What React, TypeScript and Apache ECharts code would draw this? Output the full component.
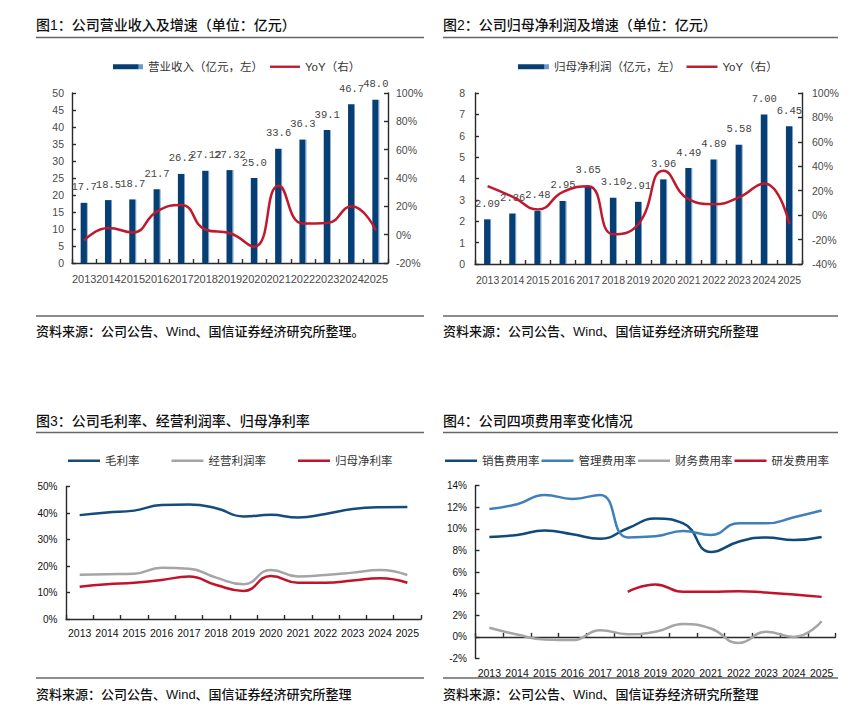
import React, { useEffect, useRef } from 'react';
import * as echarts from 'echarts';

const years = ['2013', '2014', '2015', '2016', '2017', '2018', '2019', '2020', '2021', '2022', '2023', '2024', '2025'];

// 图1
const revenue = [17.7, 18.5, 18.7, 21.7, 26.2, 27.12, 27.32, 25.0, 33.6, 36.3, 39.1, 46.7, 48.0];
const revenueYoY = [-4, 4.7, 1.6, 16.5, 21, 3.5, 1, -8.5, 34.5, 7.8, 8.2, 20, 3];

// 图2
const netProfit = [2.09, 2.36, 2.48, 2.95, 3.65, 3.1, 2.91, 3.96, 4.49, 4.89, 5.58, 7.0, 6.45];
const netProfitYoY = [23.8, 15, 4.7, 19, 23.7, -15.7, -7.3, 36.3, 13, 9, 14.6, 26, -7.5];

// 图3
const grossMargin = [39.2, 40.2, 40.9, 43, 43.2, 41.8, 38.7, 39.3, 38.3, 39.6, 41.5, 42.2, 42.3];
const opMargin = [16.7, 16.9, 17.1, 19.3, 19, 15.6, 13.1, 18.5, 16, 16.6, 17.5, 18.5, 16.6];
const netMargin = [12.2, 13.1, 13.7, 14.7, 16, 12.8, 10.6, 16.2, 13.7, 13.7, 14.5, 15.4, 13.7];

// 图4
const sellingRate = [9.24, 9.43, 9.83, 9.49, 9.08, 10.05, 10.94, 10.5, 7.85, 8.8, 9.2, 8.96, 9.24];
const mgmtRate = [11.83, 12.27, 13.13, 12.76, 13.13, 9.2, 9.3, 9.8, 9.43, 10.5, 10.5, 11.06, 11.68];
const financeRate = [0.84, 0.22, -0.25, -0.3, 0.62, 0.25, 0.47, 1.18, 0.78, -0.56, 0.47, 0, 1.45];
const rdRate = [null, null, null, null, null, 4.17, 4.85, 4.17, 4.17, 4.23, 4.1, 3.93, 3.7];

const titles = ['图1：公司营业收入及增速（单位：亿元）', '图2：公司归母净利润及增速（单位：亿元）', '图3：公司毛利率、经营利润率、归母净利率', '图4：公司四项费用率变化情况'];
const sources = ['资料来源：公司公告、Wind、国信证券经济研究所整理。', '资料来源：公司公告、Wind、国信证券经济研究所整理', '资料来源：公司公告、Wind、国信证券经济研究所整理', '资料来源：公司公告、Wind、国信证券经济研究所整理'];

const FONT = "'Liberation Sans','Noto Sans CJK SC',sans-serif";
const NAVY = '#073e74';
const RED = '#c0182c';
const LINE_ICON = 'path://M0,0H32V2.5H0Z';

const barColor = new echarts.graphic.LinearGradient(0, 0, 1, 0, [
  { offset: 0, color: NAVY },
  { offset: 0.83, color: NAVY },
  { offset: 0.86, color: '#6d9acb' },
  { offset: 1, color: '#6d9acb' },
]);

function fmtRev(v: number) {
  return Math.abs(Math.round(v * 10) - v * 10) < 1e-6 ? v.toFixed(1) : v.toFixed(2);
}

function catAxis(gridIndex: number, fontSize: number, color: string, margin: number, onZero: boolean) {
  return {
    type: 'category',
    gridIndex,
    data: years,
    boundaryGap: true,
    axisLine: { show: true, onZero, lineStyle: { color: '#2a2a2a', width: 1.4 } },
    axisTick: { show: true, inside: true, length: 4, lineStyle: { color: '#2a2a2a', width: 1.4 } },
    axisLabel: { interval: 0, fontSize, color, margin, fontFamily: FONT },
    splitLine: { show: false },
  };
}

function valAxis(gridIndex: number, position: string, min: number, max: number, interval: number, pct: boolean, fontSize: number, color: string, margin: number) {
  return {
    type: 'value',
    gridIndex,
    position,
    min,
    max,
    interval,
    axisLine: { show: true, onZero: false, lineStyle: { color: '#2a2a2a', width: 1.4 } },
    axisTick: { show: true, inside: true, length: 4, lineStyle: { color: '#2a2a2a', width: 1.4 } },
    axisLabel: { fontSize, color, margin, fontFamily: FONT, formatter: (v: number) => (pct ? v + '%' : String(v)) },
    splitLine: { show: false },
  };
}

function lineSeries(name: string, data: (number | null)[], xi: number, yi: number, color: string) {
  return {
    name,
    type: 'line',
    xAxisIndex: xi,
    yAxisIndex: yi,
    data,
    smooth: 0.5,
    symbol: 'none',
    showSymbol: false,
    connectNulls: false,
    lineStyle: { color, width: 2.5 },
    itemStyle: { color },
    z: 3,
  };
}

function barSeries(name: string, data: number[], xi: number, yi: number, fmt: (v: number) => string) {
  return {
    name,
    type: 'bar',
    xAxisIndex: xi,
    yAxisIndex: yi,
    data,
    barWidth: 7,
    itemStyle: { color: barColor },
    label: {
      show: true,
      position: 'top',
      distance: 10,
      fontFamily: "'Liberation Mono','DejaVu Sans Mono',monospace",
      fontSize: 10.5,
      color: '#444',
      formatter: (p: any) => fmt(p.value),
    },
    z: 2,
  };
}

function headerGraphics() {
  const g: any[] = [];
  const pos = [
    { x: 36, y: 25, lx1: 36, lx2: 424, ly: 37.5, sy: 316, st: 331.5, sx2: 424 },
    { x: 443, y: 25, lx1: 443, lx2: 838, ly: 37.5, sy: 316, st: 331.5, sx2: 838 },
    { x: 36, y: 420.5, lx1: 36, lx2: 424, ly: 432.5, sy: 678, st: 694, sx2: 424 },
    { x: 443, y: 420.5, lx1: 443, lx2: 838, ly: 432.5, sy: 678, st: 694, sx2: 838 },
  ];
  pos.forEach((p, i) => {
    g.push({
      type: 'text',
      x: p.x,
      y: p.y,
      style: { text: titles[i], fill: '#111', fontSize: 14, fontFamily: FONT, fontWeight: 500, verticalAlign: 'middle' },
    });
    g.push({ type: 'line', shape: { x1: p.lx1, y1: p.ly, x2: p.lx2, y2: p.ly }, style: { stroke: '#666', lineWidth: 1.5 } });
    g.push({ type: 'line', shape: { x1: p.lx1, y1: p.sy, x2: p.sx2, y2: p.sy }, style: { stroke: '#666', lineWidth: 1.5 } });
    g.push({
      type: 'text',
      x: p.x,
      y: p.st,
      style: { text: sources[i], fill: '#111', fontSize: 13, fontFamily: FONT, fontWeight: 500, verticalAlign: 'middle' },
    });
  });
  return g;
}

export default function App() {
  const ref = useRef<HTMLDivElement>(null);
  useEffect(() => {
    if (!ref.current) return;
    const chart = echarts.init(ref.current, undefined, { renderer: 'svg' });
    const legendText = { fontSize: 11.5, color: '#333', fontFamily: FONT };
    const option: any = {
      animation: false,
      backgroundColor: '#fff',
      textStyle: { fontFamily: FONT },
      graphic: headerGraphics(),
      grid: [
        { left: 72, top: 93, width: 316, height: 170, containLabel: false },
        { left: 475, top: 93, width: 327, height: 171, containLabel: false },
        { left: 66, top: 486.5, width: 355, height: 132.5, containLabel: false },
        { left: 475.5, top: 485.5, width: 360, height: 173, containLabel: false },
      ],
      legend: [
        {
          left: 113, top: 61, padding: 0, itemWidth: 30, itemHeight: 5, itemGap: 7, selectedMode: false,
          symbolKeepAspect: true,
          textStyle: legendText,
          data: [{ name: '营业收入（亿元，左）', icon: 'rect' }, { name: 'YoY（右）', icon: LINE_ICON }],
        },
        {
          left: 518, top: 61, padding: 0, itemWidth: 31, itemHeight: 5, itemGap: 6, selectedMode: false,
          symbolKeepAspect: true,
          textStyle: legendText,
          data: [{ name: '归母净利润（亿元，左）', icon: 'rect' }, { name: 'YoY（右）', icon: LINE_ICON }],
        },
        {
          left: 68, top: 455, padding: 0, itemWidth: 32, itemHeight: 10, itemGap: 32, selectedMode: false,
          symbolKeepAspect: true, icon: LINE_ICON,
          textStyle: legendText,
          data: ['毛利率', '经营利润率', '归母净利率'],
        },
        {
          left: 445, top: 455, padding: 0, itemWidth: 32, itemHeight: 10, itemGap: 2, selectedMode: false,
          symbolKeepAspect: true, icon: LINE_ICON,
          textStyle: legendText,
          data: ['销售费用率', '管理费用率', '财务费用率', '研发费用率'],
        },
      ],
      xAxis: [
        catAxis(0, 11, '#4a4a4a', 10, false),
        catAxis(1, 10.5, '#4a4a4a', 10.5, false),
        catAxis(2, 10.5, '#111', 9, false),
        catAxis(3, 10.5, '#111', 9, true),
      ],
      yAxis: [
        valAxis(0, 'left', 0, 50, 5, false, 10.5, '#4a4a4a', 8),
        valAxis(0, 'right', -20, 100, 20, true, 10.5, '#4a4a4a', 8),
        valAxis(1, 'left', 0, 8, 1, false, 10.5, '#4a4a4a', 10),
        valAxis(1, 'right', -40, 100, 20, true, 10.5, '#4a4a4a', 10),
        valAxis(2, 'left', 0, 50, 10, true, 10, '#111', 8.5),
        valAxis(3, 'left', -2, 14, 2, true, 10, '#111', 8.5),
      ],
      series: [
        barSeries('营业收入（亿元，左）', revenue, 0, 0, fmtRev),
        lineSeries('YoY（右）', revenueYoY, 0, 1, RED),
        barSeries('归母净利润（亿元，左）', netProfit, 1, 2, (v) => v.toFixed(2)),
        lineSeries('YoY（右）', netProfitYoY, 1, 3, RED),
        lineSeries('毛利率', grossMargin, 2, 4, '#154b7d'),
        lineSeries('经营利润率', opMargin, 2, 4, '#a5a5a5'),
        lineSeries('归母净利率', netMargin, 2, 4, '#c3132b'),
        lineSeries('销售费用率', sellingRate, 3, 5, '#0f4a7a'),
        lineSeries('管理费用率', mgmtRate, 3, 5, '#3f80bb'),
        lineSeries('财务费用率', financeRate, 3, 5, '#a5a5a5'),
        lineSeries('研发费用率', rdRate, 3, 5, '#c3132b'),
      ],
    };
    chart.setOption(option);
    return () => chart.dispose();
  }, []);
  return <div ref={ref} style={{ position: 'absolute', left: 0, top: 0, width: 860, height: 715 }} />;
}
